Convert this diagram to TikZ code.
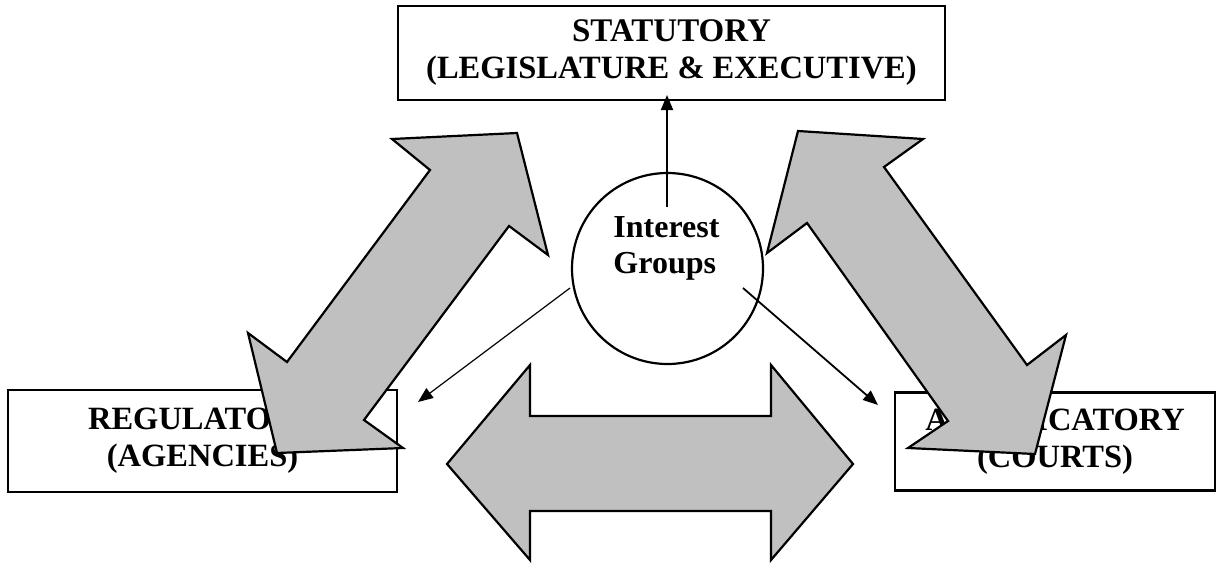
\documentclass[tikz,border=0pt]{standalone}
\usepackage{fontspec}
\setmainfont{Liberation Serif}
\usetikzlibrary{arrows.meta}
\definecolor{arrowgray}{HTML}{C0C0C0}
\tikzset{
  box/.style={draw=black, line width=2.2pt, fill=white, inner sep=0pt, align=center,
    font=\fontsize{32.5}{37}\selectfont\bfseries},
  bigarrow/.style={draw=black, line width=2.2pt, fill=arrowgray, line join=miter},
  thin/.style={draw=black, line width=1.8pt, -{Triangle[length=15pt,width=12pt]}},
}
\begin{document}
\begin{tikzpicture}[x=1pt,y=-1pt]
\useasboundingbox (0,0) rectangle (1222,562);
% boxes
\node[box, minimum width=547pt, minimum height=94pt] (stat) at (671.5,53)
  {\fontsize{33}{34}\selectfont STATUTORY\\(LEGISLATURE \& EXECUTIVE)};
\node[box, minimum width=389pt, minimum height=102pt] (reg) at (202.5,441)
  {REGULATORY\\(AGENCIES)};
\node[box, minimum width=320pt, minimum height=98pt] (adj) at (1055,441.5)
  {ADJUDICATORY\\(COURTS)};
% circle
\node[draw=black, line width=2.2pt, circle, minimum size=191pt, inner sep=0pt] (ig) at (667.5,268.5) {};
\node[inner sep=0pt, align=left, font=\fontsize{32}{36}\selectfont\bfseries] (igt) at (666.5,248) {Interest\\Groups};
% thin connectors
\coordinate (vs) at (667,207);
\coordinate (vt) at (667,95);
\coordinate (ls) at (570,288);
\coordinate (lt) at (418,402);
\coordinate (rs) at (743,288);
\coordinate (rt) at (878,405);
\draw[thin] (vs) -- (vt);
\draw[thin, line width=1.2pt] (ls) -- (lt);
\draw[thin] (rs) -- (rt);
% big left diagonal double arrow
\draw[bigarrow] (517,133) -- (548,255) -- (509,226) -- (364,420) -- (403,448)
  -- (277,453) -- (248,333) -- (287,362) -- (430,170) -- (392,139) -- cycle;
% big right diagonal double arrow
\draw[bigarrow] (798,131) -- (923,139) -- (884,167) -- (1027,365) -- (1066,335)
  -- (1035,454) -- (908,448) -- (948,421) -- (807,223) -- (767,253) -- cycle;
% horizontal double arrow
\draw[bigarrow] (447,464) -- (530,365) -- (530,416) -- (771,416) -- (771,365)
  -- (853,464) -- (771,560) -- (771,511) -- (530,511) -- (530,560) -- cycle;
\end{tikzpicture}
\end{document}
